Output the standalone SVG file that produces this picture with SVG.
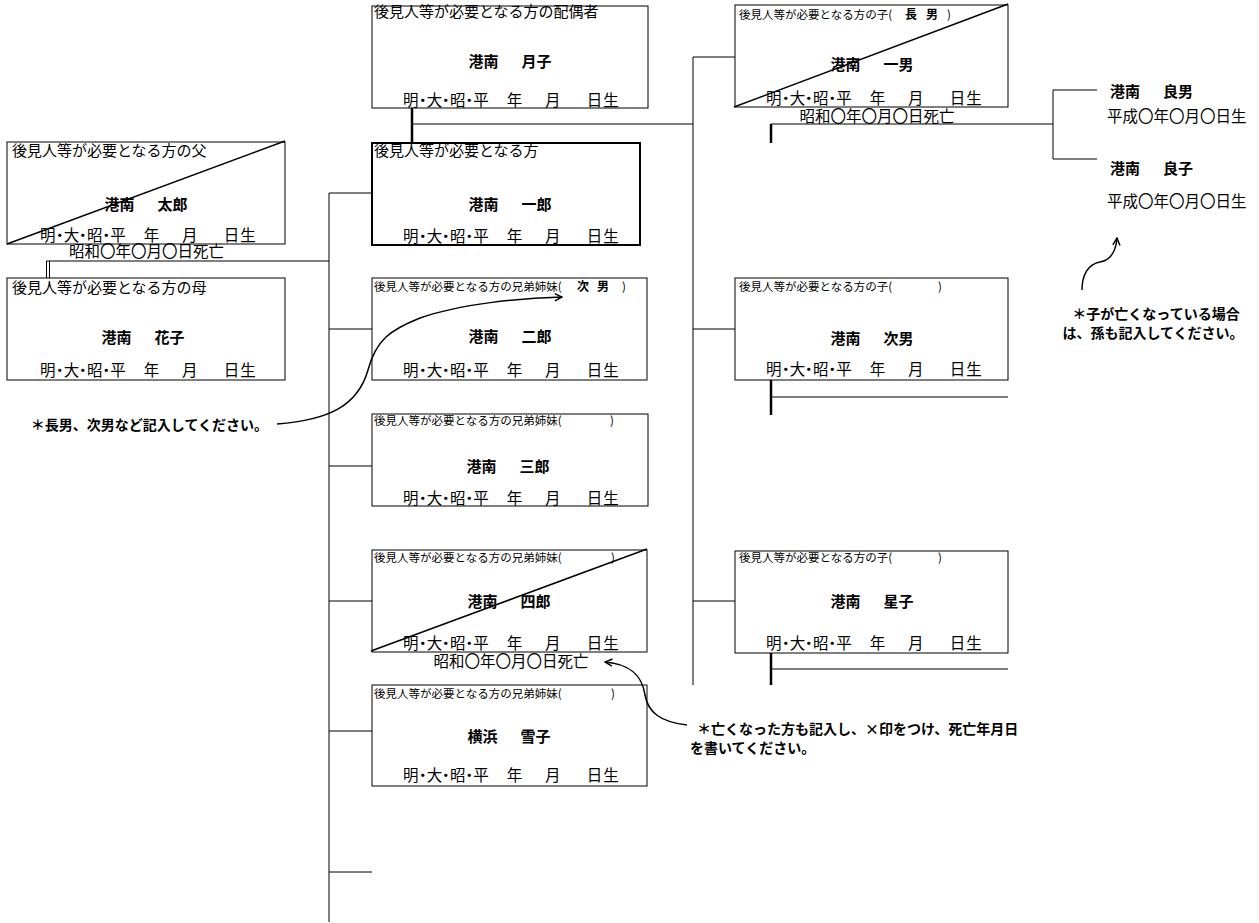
<svg xmlns="http://www.w3.org/2000/svg" xmlns:xlink="http://www.w3.org/1999/xlink" width="1259" height="923" viewBox="0 0 1259 923">
<style>
text{font-family:"Noto Sans CJK JP","Noto Sans CJK SC",sans-serif;fill:#000}
.box{fill:#fff;stroke:#000;stroke-width:1}
.mainbox{fill:#fff;stroke:#000;stroke-width:2}
.diag{stroke:#000;stroke-width:1.5}
.hd{font-size:15px}
.hs{font-size:11.5px}
.hb{font-size:12px;font-weight:bold}
.nm{font-size:15px;font-weight:bold;text-anchor:middle}
.dt{font-size:15.5px}
.dd{font-size:15.5px;text-anchor:middle}
.gn{font-size:15px;font-weight:bold}
.an{font-size:14px;font-weight:bold}
.ln{stroke:#000;stroke-width:1;fill:none}
.thk{stroke:#000;stroke-width:2.5;fill:none}
.cur{stroke:#000;stroke-width:1.5;fill:none}
</style>
<defs>
<marker id="ah" viewBox="0 0 10 10" refX="9" refY="5" markerWidth="9" markerHeight="9" markerUnits="userSpaceOnUse" orient="auto">
<path d="M1,1 L9,5 L1,9" fill="none" stroke="#000" stroke-width="1.6"/>
</marker>
<text id="birth" class="dt" x="31 43 54.7 66 78 89.5 101.3 134.7 173 214.7 231.3" y="0">明・大・昭・平年月日生</text>
<text id="death" class="dd" x="0" y="0">昭和〇年〇月〇日死亡</text>
</defs>

<g id="connectors">
<line class="ln" x1="46.5" y1="261" x2="46.5" y2="278"/>
<line class="ln" x1="49.5" y1="261" x2="49.5" y2="278"/>
<line class="ln" x1="46.5" y1="261" x2="329" y2="261"/>
<line class="ln" x1="329" y1="193" x2="329" y2="922"/>
<line class="ln" x1="329" y1="193" x2="372" y2="193"/>
<line class="ln" x1="329" y1="329" x2="372" y2="329"/>
<line class="ln" x1="329" y1="466" x2="372" y2="466"/>
<line class="ln" x1="329" y1="601" x2="372" y2="601"/>
<line class="ln" x1="329" y1="731" x2="372" y2="731"/>
<line class="ln" x1="329" y1="872" x2="372" y2="872"/>
<line class="thk" x1="412" y1="108" x2="412" y2="143"/>
<line class="ln" x1="412" y1="124" x2="693" y2="124"/>
<line class="ln" x1="693" y1="57" x2="693" y2="685"/>
<line class="ln" x1="693" y1="57" x2="735" y2="57"/>
<line class="ln" x1="693" y1="329" x2="735" y2="329"/>
<line class="ln" x1="693" y1="601" x2="735" y2="601"/>
<line class="thk" x1="771" y1="124" x2="771" y2="143"/>
<line class="ln" x1="771" y1="124" x2="1053" y2="124"/>
<line class="ln" x1="1053" y1="90" x2="1053" y2="159"/>
<line class="ln" x1="1053" y1="90" x2="1097" y2="90"/>
<line class="ln" x1="1053" y1="159" x2="1097" y2="159"/>
<line class="thk" x1="771" y1="380" x2="771" y2="415"/>
<line class="ln" x1="771" y1="397" x2="1008" y2="397"/>
<line class="thk" x1="771" y1="653" x2="771" y2="685"/>
<line class="ln" x1="771" y1="669" x2="1008" y2="669"/>
</g>

<g id="father">
<rect class="box" x="7" y="142" width="278" height="102"/>
<text class="hd" x="12" y="156">後見人等が必要となる方の父</text>
<text class="nm" x="146" y="210">港南<tspan dx="8">　太郎</tspan></text>
<use xlink:href="#birth" href="#birth" x="9" y="240.5"/>
<line class="diag" x1="7" y1="244" x2="285" y2="141"/>
<use xlink:href="#death" href="#death" x="146.5" y="257"/>
</g>

<g id="mother">
<rect class="box" x="7" y="278" width="278" height="102"/>
<text class="hd" x="12" y="293">後見人等が必要となる方の母</text>
<text class="nm" x="143" y="343">港南<tspan dx="8">　花子</tspan></text>
<use xlink:href="#birth" href="#birth" x="9" y="376"/>
</g>

<g id="spouse">
<rect class="box" x="372" y="6" width="276" height="102"/>
<text class="hd" x="374" y="17">後見人等が必要となる方の配偶者</text>
<text class="nm" x="510" y="67">港南<tspan dx="8">　月子</tspan></text>
<use xlink:href="#birth" href="#birth" x="372" y="105.5"/>
</g>

<g id="person">
<rect class="mainbox" x="372" y="143" width="268" height="102"/>
<text class="hd" x="374" y="156">後見人等が必要となる方</text>
<text class="nm" x="510" y="210">港南<tspan dx="8">　一郎</tspan></text>
<use xlink:href="#birth" href="#birth" x="372" y="242"/>
</g>

<g id="sibling-jiro">
<rect class="box" x="372" y="278" width="275" height="102"/>
<text class="hs" x="374" y="291">後見人等が必要となる方の兄弟姉妹(</text>
<text class="hb" x="577" y="291">次</text>
<text class="hb" x="597" y="291">男</text>
<text class="hs" x="622" y="291">)</text>
<text class="nm" x="510" y="342">港南<tspan dx="8">　二郎</tspan></text>
<use xlink:href="#birth" href="#birth" x="372" y="375.5"/>
</g>

<g id="sibling-saburo">
<rect class="box" x="372" y="414" width="276" height="92"/>
<text class="hs" x="374" y="425">後見人等が必要となる方の兄弟姉妹(</text>
<text class="hs" x="610" y="425">)</text>
<text class="nm" x="508" y="472">港南<tspan dx="8">　三郎</tspan></text>
<use xlink:href="#birth" href="#birth" x="372" y="503.5"/>
</g>

<g id="sibling-shiro">
<rect class="box" x="372" y="550" width="275" height="102"/>
<text class="hs" x="374" y="562">後見人等が必要となる方の兄弟姉妹(</text>
<text class="hs" x="611" y="562">)</text>
<text class="nm" x="509" y="607">港南<tspan dx="8">　四郎</tspan></text>
<use xlink:href="#birth" href="#birth" x="372" y="648.5"/>
<line class="diag" x1="371" y1="651" x2="647" y2="549"/>
<use xlink:href="#death" href="#death" x="511" y="667"/>
</g>

<g id="sibling-yukiko">
<rect class="box" x="372" y="685" width="275" height="101"/>
<text class="hs" x="374" y="697.5">後見人等が必要となる方の兄弟姉妹(</text>
<text class="hs" x="611" y="697.5">)</text>
<text class="nm" x="509" y="742">横浜<tspan dx="8">　雪子</tspan></text>
<use xlink:href="#birth" href="#birth" x="372" y="780.5"/>
</g>

<g id="child-kazuo">
<rect class="box" x="735" y="5" width="273" height="102"/>
<text class="hs" x="739" y="19">後見人等が必要となる方の子(</text>
<text class="hb" x="905" y="19">長</text>
<text class="hb" x="926" y="19">男</text>
<text class="hs" x="947" y="19">)</text>
<text class="nm" x="872" y="70">港南<tspan dx="8">　一男</tspan></text>
<use xlink:href="#birth" href="#birth" x="735" y="104"/>
<line class="diag" x1="734" y1="107" x2="1008" y2="4"/>
<use xlink:href="#death" href="#death" x="877" y="122"/>
</g>

<g id="child-jinan">
<rect class="box" x="735" y="278" width="273" height="102"/>
<text class="hs" x="739" y="291">後見人等が必要となる方の子(</text>
<text class="hs" x="938" y="291">)</text>
<text class="nm" x="872" y="344">港南<tspan dx="8">　次男</tspan></text>
<use xlink:href="#birth" href="#birth" x="735" y="375"/>
</g>

<g id="child-hoshiko">
<rect class="box" x="735" y="551" width="273" height="102"/>
<text class="hs" x="739" y="562">後見人等が必要となる方の子(</text>
<text class="hs" x="938" y="562">)</text>
<text class="nm" x="872" y="607">港南<tspan dx="8">　星子</tspan></text>
<use xlink:href="#birth" href="#birth" x="735" y="649"/>
</g>

<g id="grandchild-yoshio">
<text class="gn" x="1110" y="97">港南<tspan dx="8">　良男</tspan></text>
<text class="dt" x="1107" y="122">平成〇年〇月〇日生</text>
</g>

<g id="grandchild-yoshiko">
<text class="gn" x="1110" y="174">港南<tspan dx="8">　良子</tspan></text>
<text class="dt" x="1107" y="207">平成〇年〇月〇日生</text>
</g>

<g id="note-arrows">
<path class="cur" d="M277,424 C330,420 358,405 368,370 C376,340 390,330 420,318 C460,304 520,298 562,297" marker-end="url(#ah)"/>
<path class="cur" d="M687,725 C660,722 648,712 645,695 C642,675 630,664 605,662" marker-end="url(#ah)"/>
<path class="cur" d="M1082,290 C1082,275 1088,264 1100,262 C1112,260 1116,250 1117,238" marker-end="url(#ah)"/>
</g>

<g id="note-left">
<text class="an" x="268" y="430" text-anchor="end" font-size="13">＊長男、次男など記入してください。</text>
</g>

<g id="note-middle">
<text class="an" x="697" y="734">＊亡くなった方も記入し、×印をつけ、死亡年月日</text>
<text class="an" x="690" y="753">を書いてください。</text>
</g>

<g id="note-right">
<text class="an" x="1156" y="319" text-anchor="middle">＊子が亡くなっている場合</text>
<text class="an" x="1153" y="338" text-anchor="middle">は、孫も記入してください。</text>
</g>
</svg>
